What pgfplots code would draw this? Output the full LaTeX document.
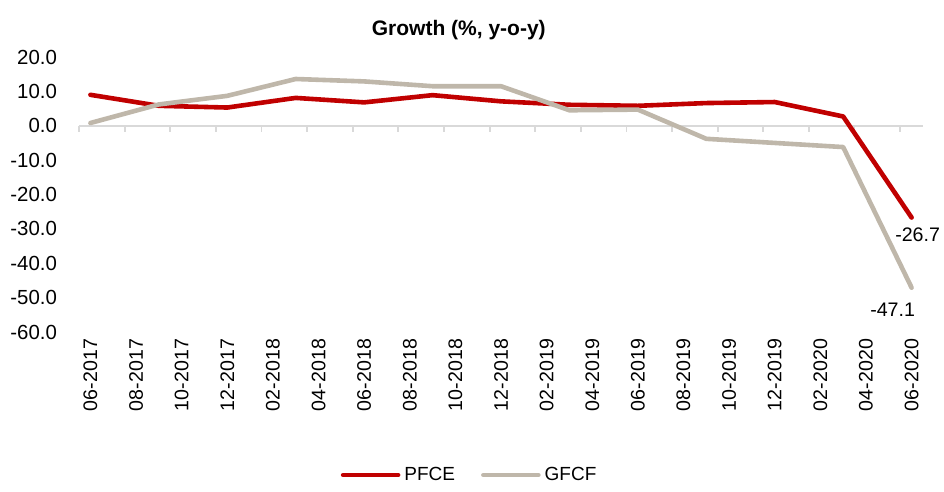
\documentclass[border=0pt]{standalone}
\usepackage{pgfplots}
\pgfplotsset{compat=1.18}
\usepackage{fontspec}
\setmainfont{Liberation Sans}
\definecolor{pfce}{RGB}{192,0,0}
\definecolor{gfcf}{RGB}{191,183,170}
\definecolor{axgray}{RGB}{217,217,217}
\begin{document}
\begin{tikzpicture}
\begin{axis}[
  scale only axis, width=422pt, height=137.5pt,
  xmin=-0.5, xmax=36.5, ymin=-60, ymax=20,
  axis x line*=bottom, axis y line*=left,
  axis line style={draw=none}, tick style={draw=none},
  major tick length=0pt,
  clip=false,
  xtick={0,2,...,36},
  xticklabels={06-2017,08-2017,10-2017,12-2017,02-2018,04-2018,06-2018,08-2018,10-2018,12-2018,02-2019,04-2019,06-2019,08-2019,10-2019,12-2019,02-2020,04-2020,06-2020},
  xticklabel style={rotate=90, anchor=east, font=\fontsize{9.8}{11}\selectfont},
  ytick={-60,-50,...,20},
  yticklabel style={font=\fontsize{10.2}{11}\selectfont, xshift=-7.5pt,
    /pgf/number format/fixed, /pgf/number format/fixed zerofill, /pgf/number format/precision=1},
  /pgf/number format/assume math mode=true,
  legend style={at={(0.464,-0.52)}, anchor=center, draw=none, fill=none, legend columns=2,
    font=\fontsize{9.5}{11}\selectfont,
    /tikz/every even column/.append style={column sep=11pt}},
  legend image code/.code={\draw[#1, line cap=round] (0pt,0pt) -- (27.5pt,0pt);},
]
\draw[axgray, line width=0.9pt] (axis cs:-0.5,0) -- (axis cs:36.5,0);
\pgfplotsinvokeforeach{-0.5,1.5,3.5,5.5,7.5,9.5,11.5,13.5,15.5,17.5,19.5,21.5,23.5,25.5,27.5,29.5,31.5,33.5,35.5}{
  \draw[axgray, line width=0.9pt] (axis cs:#1,0) -- ++(0pt,-3pt);
}
\addplot[pfce, line width=2.3pt, line join=round, line cap=round] coordinates {
 (0,9.0)(3,5.8)(6,5.3)(9,8.1)(12,6.8)(15,8.9)(18,7.1)(21,6.1)(24,5.8)(27,6.6)(30,6.9)(33,2.7)(36,-26.7)
};
\addlegendentry{PFCE}
\addplot[gfcf, line width=2.3pt, line join=round, line cap=round] coordinates {
 (0,0.8)(3,6.2)(6,8.7)(9,13.6)(12,12.9)(15,11.5)(18,11.5)(21,4.5)(24,4.7)(27,-3.8)(30,-5.0)(33,-6.2)(36,-47.1)
};
\addlegendentry{GFCF}
\node[anchor=north, inner sep=0pt, font=\fontsize{9.8}{11}\selectfont] at (axis cs:36,-26.7) [xshift=3pt, yshift=-5pt] {-26.7};
\node[anchor=north, inner sep=0pt, font=\fontsize{9.8}{11}\selectfont] at (axis cs:36,-47.1) [xshift=-9.5pt, yshift=-7.5pt] {-47.1};
\node[font=\bfseries\fontsize{10.5}{12}\selectfont] at (rel axis cs:0.45,1) [yshift=13.5pt] {Growth (\%, y-o-y)};
\path (rel axis cs:0,0) ++(-39.5pt,-77pt);
\path (rel axis cs:1,1) ++(10.5pt,28.5pt);
\end{axis}
\end{tikzpicture}
\end{document}
